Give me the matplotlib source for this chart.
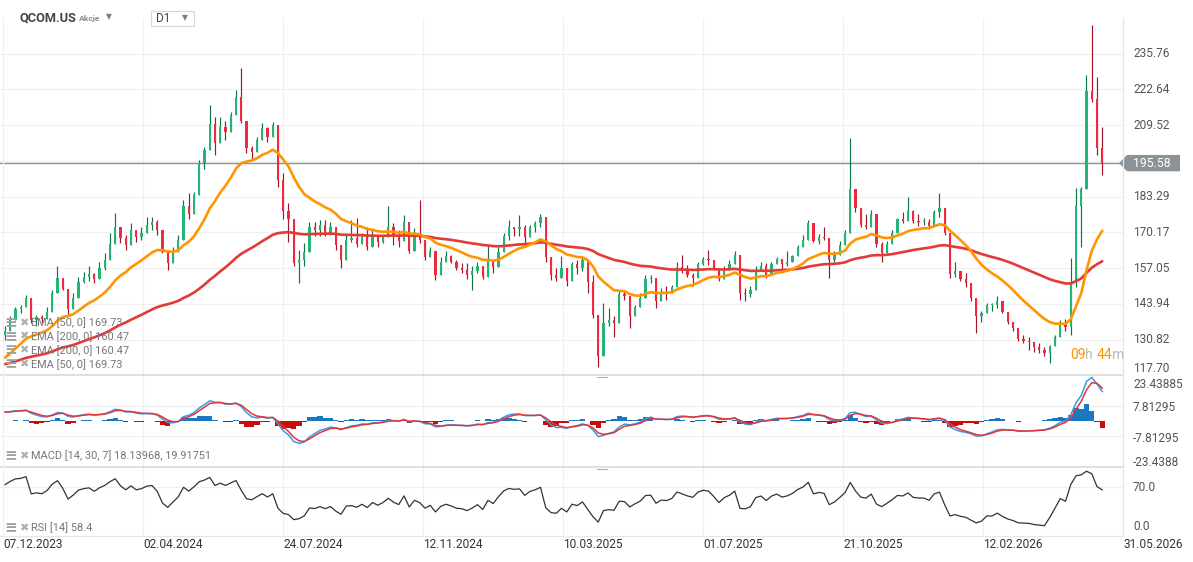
import numpy as np
import pandas as pd
import matplotlib
matplotlib.use("Agg")
import matplotlib.pyplot as plt
from matplotlib.transforms import blended_transform_factory
from matplotlib.patches import Polygon, Rectangle
from matplotlib.lines import Line2D

# QCOM.US, D1 chart, read every 3rd session (low, high, close)
lows = [130.8, 134.5, 140.0, 140.6, 143.6, 136.9, 135.7, 136.9, 138.7, 142.4,
        151.6, 149.1, 139.4, 143.0, 147.9, 151.6, 152.2, 151.6, 154.6, 156.5,
        163.8, 169.3, 166.2, 163.8, 168.0, 166.8, 167.4, 169.9, 171.1, 169.3,
        162.6, 156.5, 160.5, 164.4, 174.1, 175.0, 180.9, 186.0, 193.5, 202.0,
        198.6, 205.3, 204.1, 209.0, 214.0, 210.2, 199.2, 197.0, 201.0, 204.7,
        203.5, 205.0, 187.0, 175.0, 166.8, 157.7, 151.6, 157.7, 163.8, 168.7,
        168.7, 168.7, 169.3, 163.8, 157.1, 163.2, 166.8, 165.0, 166.8, 163.8,
        166.8, 165.0, 166.2, 169.9, 165.6, 165.0, 169.3, 162.6, 164.4, 166.2,
        160.1, 161.3, 152.8, 155.2, 159.5, 159.0, 156.5, 155.2, 153.0, 149.1,
        155.2, 153.0, 158.9, 155.2, 160.1, 164.4, 167.4, 168.7, 168.7, 165.6,
        170.0, 170.5, 172.0, 159.5, 152.8, 152.2, 155.2, 150.4, 155.2, 155.0,
        156.0, 147.9, 138.7, 121.0, 128.4, 135.7, 132.0, 140.0, 145.5, 135.1,
        139.4, 145.0, 151.0, 151.6, 142.4, 147.3, 145.5, 149.1, 154.6, 155.2,
        154.0, 150.4, 155.2, 158.3, 158.3, 156.5, 152.2, 154.0, 157.1, 160.1,
        145.5, 145.0, 146.5, 153.5, 156.5, 153.5, 156.5, 159.0, 156.5, 158.0,
        159.5, 162.5, 166.5, 170.5, 166.5, 166.0, 167.4, 153.4, 159.5, 163.0,
        168.0, 170.0, 177.5, 172.3, 171.5, 172.5, 165.0, 159.5, 163.5, 168.0,
        171.5, 173.5, 176.0, 173.5, 172.5, 173.0, 171.5, 173.5, 176.0, 169.3,
        153.4, 154.0, 152.5, 150.3, 144.9, 133.3, 137.5, 141.3, 141.5, 142.5,
        140.6, 136.5, 134.0, 130.5, 129.5, 127.1, 126.5, 126.0, 124.7, 122.3,
        128.5, 134.0, 134.0, 132.5, 150.0, 165.0, 186.0, 218.0, 198.5, 191.2]
highs = [135.7, 139.4, 143.0, 143.6, 147.3, 142.4, 140.0, 140.0, 143.0, 149.1,
         157.7, 152.8, 145.5, 147.9, 154.0, 155.8, 157.7, 155.2, 159.5, 162.6,
         169.9, 177.2, 171.7, 169.3, 173.5, 171.1, 172.3, 176.0, 176.0, 174.8,
         169.9, 162.6, 165.0, 169.3, 182.1, 184.5, 185.1, 196.7, 201.6, 216.9,
         212.6, 212.6, 211.0, 214.5, 222.4, 230.3, 207.1, 202.0, 205.0, 210.2,
         209.0, 210.8, 199.2, 192.0, 180.9, 164.4, 163.8, 166.2, 174.1, 174.1,
         174.8, 174.8, 174.1, 167.4, 164.4, 169.3, 174.8, 175.4, 169.9, 172.3,
         171.1, 168.1, 169.3, 179.7, 173.5, 171.1, 176.6, 169.9, 171.7, 182.1,
         164.4, 165.0, 162.6, 161.3, 163.2, 162.0, 160.1, 158.9, 158.9, 157.7,
         159.5, 157.1, 165.6, 158.9, 165.0, 169.9, 174.8, 172.3, 176.6, 173.0,
         173.0, 174.5, 177.0, 176.0, 160.7, 157.0, 161.5, 156.5, 159.5, 160.1,
         161.3, 160.0, 154.6, 139.0, 144.3, 142.4, 139.4, 149.1, 149.1, 141.0,
         143.6, 148.0, 154.6, 154.6, 150.4, 149.7, 150.4, 151.0, 159.5, 161.9,
         158.3, 155.2, 159.5, 161.3, 163.8, 160.1, 155.8, 157.7, 160.1, 163.2,
         160.7, 149.7, 150.4, 157.7, 159.5, 158.9, 159.5, 161.3, 159.5, 163.2,
         161.9, 165.5, 169.3, 174.8, 170.5, 169.5, 172.0, 168.0, 163.5, 167.0,
         171.0, 204.7, 184.0, 179.0, 177.0, 178.4, 176.0, 166.5, 167.0, 171.0,
         175.5, 177.5, 183.3, 178.5, 177.0, 175.5, 175.0, 178.4, 184.5, 179.0,
         164.4, 159.5, 155.5, 155.2, 151.5, 140.6, 141.3, 144.2, 144.2, 146.7,
         144.2, 139.5, 137.5, 134.0, 132.5, 132.0, 130.0, 129.5, 128.0, 129.0,
         132.5, 138.0, 138.5, 160.7, 186.4, 187.0, 227.9, 246.2, 227.0, 209.0]
closes = [134.0, 138.0, 142.0, 142.8, 146.0, 138.0, 139.0, 138.5, 141.0, 148.0,
          153.5, 149.5, 142.0, 146.0, 152.0, 154.0, 155.0, 153.0, 157.0, 160.0,
          166.0, 172.0, 168.0, 165.5, 171.0, 168.5, 170.0, 173.0, 174.0, 171.0,
          163.0, 159.0, 163.0, 167.5, 180.0, 177.0, 184.0, 195.5, 200.5, 210.0,
          203.0, 209.0, 207.0, 213.2, 220.0, 211.0, 201.0, 199.5, 204.0, 208.5,
          205.0, 209.5, 189.5, 178.0, 175.0, 159.0, 160.0, 163.0, 172.0, 171.0,
          173.0, 170.0, 172.0, 165.5, 160.0, 167.5, 168.0, 166.0, 168.5, 165.0,
          169.0, 166.5, 168.5, 172.0, 169.0, 167.0, 174.0, 163.5, 170.0, 167.5,
          161.0, 163.5, 154.5, 159.5, 161.5, 159.5, 157.0, 156.5, 154.5, 156.0,
          158.0, 154.0, 160.0, 157.5, 163.0, 169.0, 172.0, 171.5, 172.0, 168.5,
          172.0, 173.5, 176.0, 161.0, 154.5, 153.5, 157.0, 152.5, 158.5, 157.0,
          160.0, 152.0, 140.0, 125.0, 137.0, 138.0, 137.0, 147.5, 147.0, 139.5,
          143.0, 146.0, 153.0, 153.5, 145.0, 148.5, 148.0, 150.0, 157.5, 156.0,
          154.5, 153.5, 158.5, 160.5, 160.0, 157.0, 153.0, 156.5, 158.5, 162.0,
          148.0, 147.5, 149.0, 156.5, 158.0, 154.5, 158.5, 160.5, 158.5, 159.5,
          161.5, 165.0, 167.5, 173.5, 167.0, 168.5, 168.0, 160.0, 162.0, 165.5,
          170.0, 186.0, 179.0, 173.0, 172.0, 177.0, 166.0, 162.5, 166.0, 170.0,
          175.0, 174.5, 178.0, 174.5, 174.0, 174.0, 172.5, 177.5, 179.0, 170.0,
          155.0, 156.0, 153.0, 151.5, 146.0, 139.5, 140.5, 143.5, 143.5, 145.0,
          141.0, 137.5, 135.0, 131.0, 130.5, 130.0, 128.0, 127.0, 126.0, 128.5,
          132.0, 137.0, 135.5, 152.0, 180.0, 186.0, 222.0, 219.0, 201.0, 195.58]
first_open = 132.5
sessions_per_bar = 3

# indicator starting values (history before the visible window)
ema50_seed = 123.0
ema200_seed = 121.5
macd_fast_seed = 131.0
macd_slow_seed = 126.0
macd_signal_seed = 4.5
rsi_gain_seed = 2.0
rsi_loss_seed = 0.8
rsi_bar_period = 8       # smoothing on 3-session bars
hist_scale = 2.0         # histogram drawn at double height like the platform

price_ticks = [117.70, 130.82, 143.94, 157.05, 170.17, 183.29, 196.40, 209.52, 222.64, 235.76]
price_tick_labels = ["117.70", "130.82", "143.94", "157.05", "170.17", "183.29", "", "209.52", "222.64", "235.76"]
macd_ticks = [-23.4388, -7.81295, 7.81295, 23.43885]
macd_tick_labels = ["-23.4388", "-7.81295", "7.81295", "23.43885"]
rsi_ticks = [0.0, 70.0]
rsi_tick_labels = ["0.0", "70.0"]
date_labels = ["07.12.2023", "02.04.2024", "24.07.2024", "12.11.2024", "10.03.2025",
               "01.07.2025", "21.10.2025", "12.02.2026", "31.05.2026"]
bars_per_date_label = 80 / sessions_per_bar
last_price = 195.58

legend_price = ["EMA [50, 0] 169.73", "EMA [200, 0] 160.47", "EMA [200, 0] 160.47", "EMA [50, 0] 169.73"]
legend_macd = "MACD [14, 30, 7] 18.13968, 19.91751"
legend_rsi = "RSI [14] 58.4"

W, H = 1193, 562
GREEN, GREEN_D = "#22b573", "#10724a"
RED, RED_D = "#f2283d", "#a5162b"
ORANGE = "#ff9500"
EMA_RED = "#e53935"
GRID = "#f0f0f0"
SEP = "#dadada"
LABEL = "#555555"

plt.rcParams['font.family'] = ['Roboto', 'DejaVu Sans']


def fx(px):
    return px / W


def fy(py):
    return 1 - py / H


def ema(values, n, seed):
    a = 1 - (1 - 2.0 / (n + 1)) ** sessions_per_bar
    s = pd.Series([seed] + list(values))
    return s.ewm(alpha=a, adjust=False).mean().values[1:]


closes = np.array(closes)
lows = np.array(lows)
highs = np.array(highs)
x = np.arange(len(closes))
opens = np.r_[first_open, closes[:-1]]

ema50 = ema(closes, 50, ema50_seed)
ema200 = ema(closes, 200, ema200_seed)
macd = ema(closes, 14, macd_fast_seed) - ema(closes, 30, macd_slow_seed)
signal = ema(macd, 7, macd_signal_seed)
hist = (macd - signal) * hist_scale

diff = np.diff(np.r_[first_open, closes])
a_rsi = 1.0 / rsi_bar_period
avg_gain = pd.Series([rsi_gain_seed] + list(np.clip(diff, 0, None))).ewm(alpha=a_rsi, adjust=False).mean().values[1:]
avg_loss = pd.Series([rsi_loss_seed] + list(np.clip(-diff, 0, None))).ewm(alpha=a_rsi, adjust=False).mean().values[1:]
rsi = 100 - 100 / (1 + avg_gain / avg_loss)

# layout in pixels
plot_right = 1123
bar_px = 5.25
first_bar_px = 5.0
xlim = (-first_bar_px / bar_px, (plot_right - first_bar_px) / bar_px)
date_pos = [(3 - first_bar_px) / bar_px + bars_per_date_label * j for j in range(len(date_labels))]

fig = plt.figure(figsize=(W / 100, H / 100), dpi=100)
ax_p = fig.add_axes([0, fy(375), fx(plot_right), (375 - 18) / H])
ax_m = fig.add_axes([0, fy(467), fx(plot_right), (467 - 375) / H])
ax_r = fig.add_axes([0, fy(535.5), fx(plot_right), (535.5 - 467) / H])

for ax, ylim, ticks in [(ax_p, (117.9, 248.8), price_ticks),
                        (ax_m, (-23.44, 23.44), macd_ticks[1:3]),
                        (ax_r, (0, 99), [70.0])]:
    ax.set_xlim(*xlim)
    ax.set_ylim(*ylim)
    ax.set_xticks([])
    ax.set_yticks([])
    for s in ax.spines.values():
        s.set_visible(False)
    for t in ticks:
        ax.axhline(t, color=GRID, lw=0.9, zorder=0)
    for d in date_pos[1:-1]:
        ax.axvline(d, color=GRID, lw=0.9, zorder=0)

# candles
up = closes >= opens
body_lo = np.minimum(opens, closes)
body_hi = np.maximum(opens, closes)
wick_lo = np.minimum(lows, body_lo)
wick_hi = np.maximum(highs, body_hi)
body_h = np.maximum(body_hi - body_lo, 0.35)
for m, c_body, c_wick in [(up, GREEN, GREEN_D), (~up, RED, RED_D)]:
    ax_p.vlines(x[m], wick_lo[m], wick_hi[m], color=c_wick, lw=0.85, zorder=2)
    ax_p.bar(x[m], body_h[m], bottom=body_lo[m], width=0.4, color=c_body, lw=0, zorder=3)

ax_p.plot(x, ema200, color=EMA_RED, lw=1.9, zorder=4, solid_capstyle='round')
ax_p.plot(x, ema50, color=ORANGE, lw=1.9, zorder=4, solid_capstyle='round')
ax_p.axhline(last_price, color="#8a8f93", lw=1.0, zorder=1)

# MACD
hist_col = np.where(hist >= 0, "#1a78c2", "#cc0a0a")
ax_m.bar(x, hist, width=1.0, color=hist_col, lw=0, zorder=2)
ax_m.plot(x, macd, color="#3a9ae6", lw=1.1, zorder=3)
ax_m.plot(x, signal, color="#e0383a", lw=1.1, zorder=4)

# RSI
ax_r.plot(x, rsi, color="#333333", lw=0.9, zorder=3)

# separators and frame
for py in [375, 467, 535.5]:
    fig.add_artist(Line2D([0, fx(plot_right)], [fy(py), fy(py)], color=SEP if py < 500 else "#e6e6e6",
                          lw=1.2 if py < 500 else 0.9))
fig.add_artist(Line2D([fx(plot_right), fx(plot_right)], [fy(18), fy(535.5)], color="#e6e6e6", lw=0.9))
fig.add_artist(Line2D([fx(3), fx(3)], [fy(18), fy(535.5)], color=GRID, lw=0.9))
for py in [375, 467]:
    fig.add_artist(Line2D([fx(597), fx(607)], [fy(py + 1.5), fy(py + 1.5)], color="#b0b0b0", lw=0.8))

# right axis labels
tr_p = blended_transform_factory(fig.transFigure, ax_p.transData)
for v, lab in zip(price_ticks, price_tick_labels):
    if not lab:
        continue
    if v < 120:
        fig.text(fx(1133), fy(375.5), lab, ha='left', va='bottom', fontsize=8.6, color=LABEL)
    else:
        fig.text(fx(1133), v, lab, transform=tr_p, ha='left', va='center', fontsize=8.6, color=LABEL)

tr_m = blended_transform_factory(fig.transFigure, ax_m.transData)
for v, lab in zip(macd_ticks, macd_tick_labels):
    if v > 20:
        fig.text(fx(1133), fy(384), lab, ha='left', va='center', fontsize=8.6, color=LABEL)
    elif v < -20:
        fig.text(fx(1133), fy(462.5), lab, ha='left', va='center', fontsize=8.6, color=LABEL)
    else:
        fig.text(fx(1133), v - 0.9, lab, transform=tr_m, ha='left', va='center', fontsize=8.6, color=LABEL)
tr_r = blended_transform_factory(fig.transFigure, ax_r.transData)
for v, lab in zip(rsi_ticks, rsi_tick_labels):
    fig.text(fx(1133), v + 3 if v == 0 else v, lab, transform=tr_r, ha='left',
             va='bottom' if v == 0 else 'center', fontsize=8.6, color=LABEL)

# current price tag
fig.canvas.draw()
py_last = ax_p.transData.transform((0, last_price))[1]
tag = Polygon([(1119, py_last), (1127, py_last + 8.2), (1180, py_last + 8.2),
               (1180, py_last - 8.2), (1127, py_last - 8.2)], closed=True, transform=None,
              fc="#8a9398", ec="none")
fig.add_artist(tag)
fig.text(fx(1133), py_last / H, f"{last_price:.2f}", ha='left', va='center', fontsize=8.8,
         color="white")

# date labels
for d, lab in zip(date_pos, date_labels):
    fig.text(fx(first_bar_px + bar_px * d), fy(544), lab, ha='left', va='center', fontsize=8.6, color="#333333")

# indicator legends
legend_rows = [(323 + 13.8 * i, lab) for i, lab in enumerate(legend_price)]
legend_rows += [(456, legend_macd), (528, legend_rsi)]
for py, lab in legend_rows:
    fig.text(fx(4), fy(py), "≡", ha='left', va='center', fontsize=11, color="#a0a0a0", fontweight='bold')
    fig.text(fx(19), fy(py), "✖", ha='left', va='center', fontsize=8, color="#b0b0b0")
    fig.text(fx(31), fy(py), lab, ha='left', va='center', fontsize=7.9, color="#777777")

# header
fig.text(fx(20), fy(18), "QCOM.US", ha='left', va='center', fontsize=9.2, fontweight='bold', color="#3b4750")
fig.text(fx(79), fy(19), "Akcje", ha='left', va='center', fontsize=6.1, fontweight='bold', color="#8c8c8c")
fig.text(fx(106), fy(17), "▼", ha='left', va='center', fontsize=5.5, color="#7d7d7d")
fig.add_artist(Rectangle((fx(150.5), fy(25.7)), fx(43), 15 / H, fc="white", ec="#d8d8d8", lw=0.8))
fig.text(fx(156), fy(18.5), "D1", ha='left', va='center', fontsize=8.6, color="#444444")
fig.text(fx(182), fy(18), "▼", ha='left', va='center', fontsize=5.5, color="#7d7d7d")

# countdown
for px, s, c in [(1070, "09", ORANGE), (1085, "h", "#b9b9b9"), (1097, "44", ORANGE), (1112, "m", "#b9b9b9")]:
    fig.text(fx(px), fy(355), s, ha='left', va='center', fontsize=10, color=c)

fig.savefig("out.png", dpi=100, facecolor="white")
